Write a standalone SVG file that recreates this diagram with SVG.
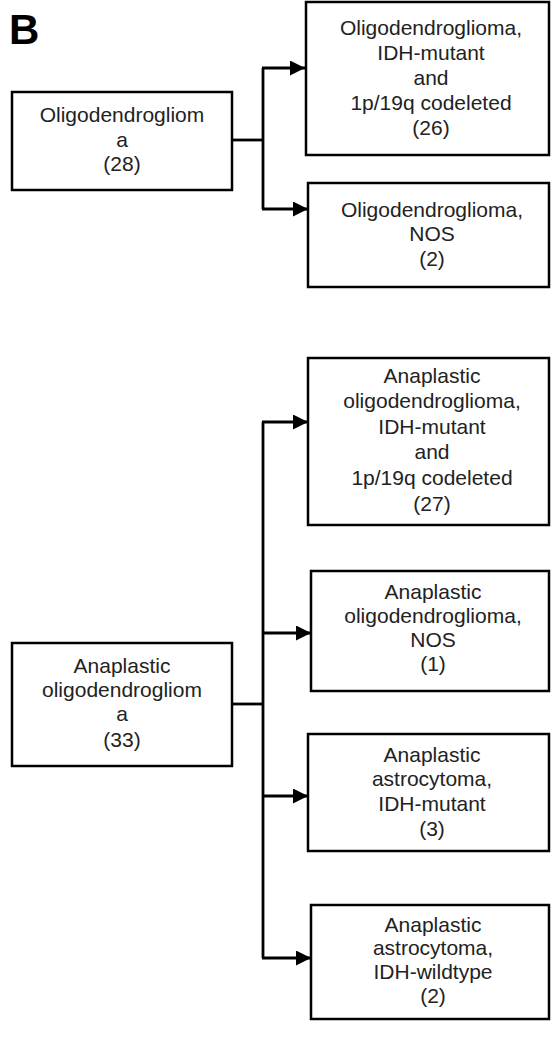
<svg xmlns="http://www.w3.org/2000/svg" width="551" height="1064" viewBox="0 0 551 1064">
<style>
.box{fill:#fff;stroke:#000;stroke-width:2.5}
.t{font-family:"Liberation Sans",Arial,sans-serif;font-size:21px;fill:#222;text-anchor:middle}
.c{stroke:#000;stroke-width:2.8;fill:none}
.lbl{font-family:"Liberation Sans",Arial,sans-serif;font-size:42px;font-weight:bold;fill:#000}
</style>
<defs>
<marker id="ah" markerUnits="userSpaceOnUse" markerWidth="18" markerHeight="18" refX="15" refY="7.5" orient="auto">
<path d="M0,0 L15,7.5 L0,15 Z" fill="#000"/>
</marker>
</defs>
<rect width="551" height="1064" fill="#fff"/>
<text class="lbl" x="9" y="44">B</text>
<g id="connectors">
<path class="c" d="M232,140 H262"/>
<path class="c" d="M263,68 V209"/>
<path class="c" d="M262,68 H305" marker-end="url(#ah)"/>
<path class="c" d="M262,209 H308" marker-end="url(#ah)"/>
<path class="c" d="M232,704 H262"/>
<path class="c" d="M263,422 V958"/>
<path class="c" d="M262,422 H308" marker-end="url(#ah)"/>
<path class="c" d="M262,633 H311" marker-end="url(#ah)"/>
<path class="c" d="M262,796 H308" marker-end="url(#ah)"/>
<path class="c" d="M262,958 H311" marker-end="url(#ah)"/>
</g>
<g id="n-oligo">
<rect class="box" x="12" y="92" width="220" height="98"/>
<text class="t" x="122" y="122">Oligodendrogliom</text>
<text class="t" x="122" y="147">a</text>
<text class="t" x="122" y="171">(28)</text>
</g>
<g id="n-oligo-idh">
<rect class="box" x="306" y="2" width="243" height="153"/>
<text class="t" x="431" y="35">Oligodendroglioma,</text>
<text class="t" x="431" y="60">IDH-mutant</text>
<text class="t" x="431" y="85">and</text>
<text class="t" x="431" y="110">1p/19q codeleted</text>
<text class="t" x="431" y="135">(26)</text>
</g>
<g id="n-oligo-nos">
<rect class="box" x="308" y="183" width="241" height="104"/>
<text class="t" x="432" y="217">Oligodendroglioma,</text>
<text class="t" x="432" y="241">NOS</text>
<text class="t" x="432" y="266">(2)</text>
</g>
<g id="n-anaoligo">
<rect class="box" x="12" y="643" width="220" height="123"/>
<text class="t" x="122" y="673">Anaplastic</text>
<text class="t" x="122" y="697">oligodendrogliom</text>
<text class="t" x="122" y="721">a</text>
<text class="t" x="122" y="747">(33)</text>
</g>
<g id="n-anaoligo-idh">
<rect class="box" x="308" y="358" width="241" height="167"/>
<text class="t" x="432" y="383">Anaplastic</text>
<text class="t" x="432" y="408">oligodendroglioma,</text>
<text class="t" x="432" y="434">IDH-mutant</text>
<text class="t" x="432" y="459">and</text>
<text class="t" x="432" y="485">1p/19q codeleted</text>
<text class="t" x="432" y="511">(27)</text>
</g>
<g id="n-anaoligo-nos">
<rect class="box" x="311" y="571" width="238" height="120"/>
<text class="t" x="433" y="599">Anaplastic</text>
<text class="t" x="433" y="623">oligodendroglioma,</text>
<text class="t" x="433" y="647">NOS</text>
<text class="t" x="433" y="671">(1)</text>
</g>
<g id="n-anaastro-idh">
<rect class="box" x="308" y="734" width="241" height="117"/>
<text class="t" x="432" y="762">Anaplastic</text>
<text class="t" x="432" y="786">astrocytoma,</text>
<text class="t" x="432" y="811">IDH-mutant</text>
<text class="t" x="432" y="836">(3)</text>
</g>
<g id="n-anaastro-wt">
<rect class="box" x="311" y="905" width="238" height="114"/>
<text class="t" x="433" y="932">Anaplastic</text>
<text class="t" x="433" y="955">astrocytoma,</text>
<text class="t" x="433" y="979">IDH-wildtype</text>
<text class="t" x="433" y="1003">(2)</text>
</g>
</svg>
